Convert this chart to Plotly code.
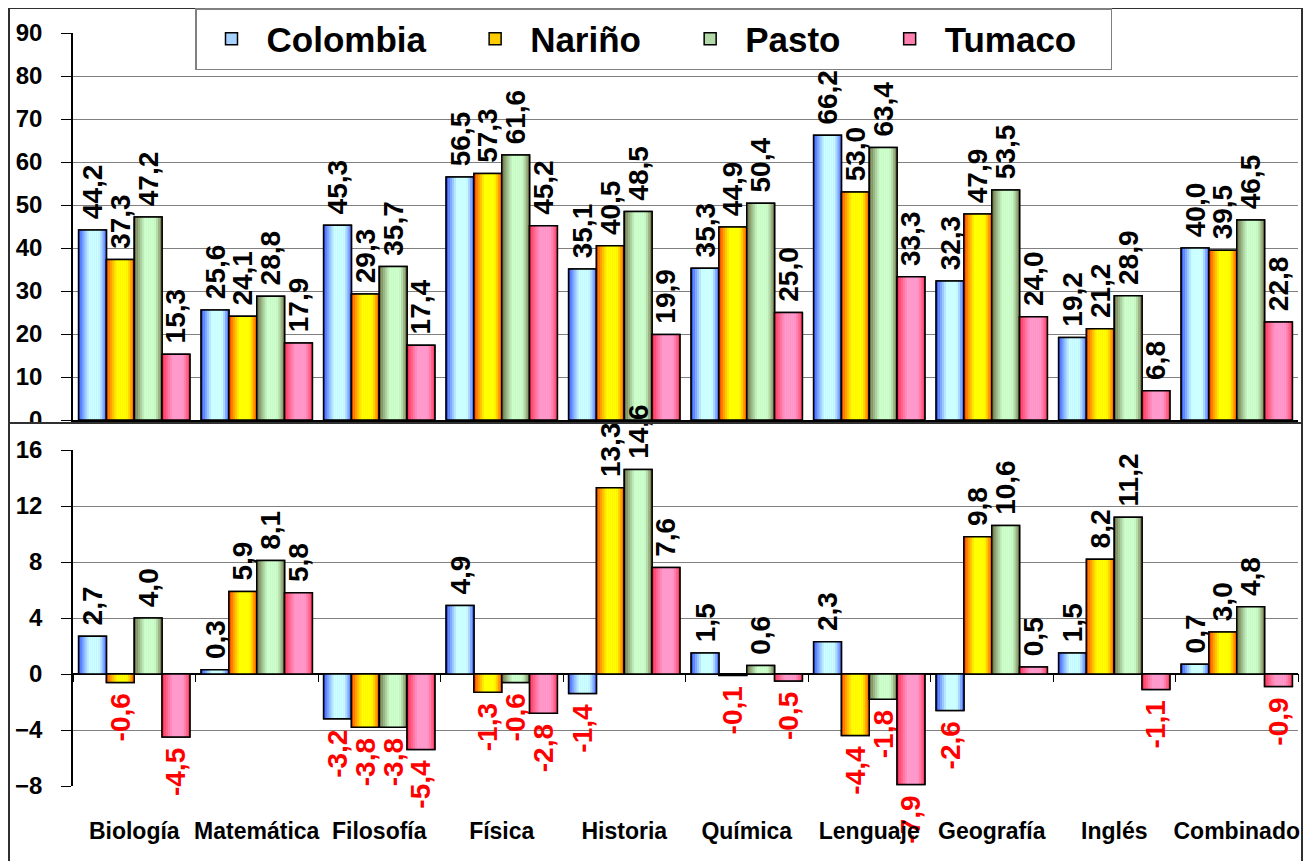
import plotly.graph_objects as go

subjects = ["Biología", "Matemática", "Filosofía", "Física", "Historia",
            "Química", "Lenguaje", "Geografía", "Inglés", "Combinado"]
series_names = ["Colombia", "Nariño", "Pasto", "Tumaco"]

# puntajes (panel superior)
score_colombia = [44.2, 25.6, 45.3, 56.5, 35.1, 35.3, 66.2, 32.3, 19.2, 40.0]
score_narino = [37.3, 24.1, 29.3, 57.3, 40.5, 44.9, 53.0, 47.9, 21.2, 39.5]
score_pasto = [47.2, 28.8, 35.7, 61.6, 48.5, 50.4, 63.4, 53.5, 28.9, 46.5]
score_tumaco = [15.3, 17.9, 17.4, 45.2, 19.9, 25.0, 33.3, 24.0, 6.8, 22.8]

# cambios (panel inferior)
change_colombia = [2.7, 0.3, -3.2, 4.9, -1.4, 1.5, 2.3, -2.6, 1.5, 0.7]
change_narino = [-0.6, 5.9, -3.8, -1.3, 13.3, -0.1, -4.4, 9.8, 8.2, 3.0]
change_pasto = [4.0, 8.1, -3.8, -0.6, 14.6, 0.6, -1.8, 10.6, 11.2, 4.8]
change_tumaco = [-4.5, 5.8, -5.4, -2.8, 7.6, -0.5, -7.9, 0.5, -1.1, -0.9]

top_values = [score_colombia, score_narino, score_pasto, score_tumaco]
bottom_values = [change_colombia, change_narino, change_pasto, change_tumaco]

# gradient stops: left edge, centre, right edge; plus flat legend colour
gradients = [
    ("#2040ff", "#ccffff", "#3a58ff", "#a6d2ff"),
    ("#ff3000", "#ffff00", "#ff4000", "#ffcc00"),
    ("#5c5c30", "#ccffcc", "#6a6a3c", "#b3d9a6"),
    ("#ff2040", "#ff99cc", "#ff3050", "#ff80b0"),
]

# the page body has an 8px margin, so size the figure to the visible area
W, H = 1305, 853
FONT = "Liberation Sans, Arial, sans-serif"
BAR_W = 0.227
N_STRIPS = 14
LEGEND_PAD = "\u00a0" * 3


def fx(px):
    return (px - 8) / W


def fy(py):
    return 1 - (py - 8) / H


def hex_to_rgb(h):
    h = h.lstrip("#")
    return tuple(int(h[i:i + 2], 16) for i in (0, 2, 4))


def mix(c1, c2, t):
    a, b = hex_to_rgb(c1), hex_to_rgb(c2)
    return "rgb({},{},{})".format(*[round(a[i] + (b[i] - a[i]) * t) for i in range(3)])


def strip_color(grad, t):
    left, mid, right = grad[0], grad[1], grad[2]
    if t < 0.38:
        return mix(left, mid, (t / 0.38) ** 0.8)
    if t < 0.72:
        return mix(mid, mid, 0)
    return mix(mid, right, ((t - 0.72) / 0.28) ** 1.4)


def fmt(v):
    # pad with a no-break space on the bar side so labels sit off the bar end
    s = f"{v:.1f}".replace(".", ",")
    return s + "\u00a0" if v < 0 else "\u00a0" + s


fig = go.Figure()

panels = [(top_values, "x", "y", True), (bottom_values, "x2", "y2", False)]
for values_set, xa, ya, legend in panels:
    for i, (name, vals) in enumerate(zip(series_names, values_set)):
        grad = gradients[i]
        base = -2 * BAR_W + i * BAR_W
        # flat base bar (also the legend entry)
        fig.add_trace(go.Bar(
            x=subjects, y=vals, name=name + LEGEND_PAD, xaxis=xa, yaxis=ya,
            width=BAR_W, offset=base,
            marker=dict(color=grad[3], line=dict(color="black", width=1.5)),
            showlegend=legend, legendgroup=name, hoverinfo="skip",
        ))
        # gradient strips
        sw = BAR_W / N_STRIPS
        for k in range(N_STRIPS):
            t = (k + 0.5) / N_STRIPS
            fig.add_trace(go.Bar(
                x=subjects, y=vals, xaxis=xa, yaxis=ya,
                width=sw * 1.08, offset=base + k * sw,
                marker=dict(color=strip_color(grad, t), line=dict(width=0)),
                showlegend=False, legendgroup=name, hoverinfo="skip",
            ))
        # outline + labels
        fig.add_trace(go.Bar(
            x=subjects, y=vals, name=name, xaxis=xa, yaxis=ya,
            width=BAR_W, offset=base,
            marker=dict(color="rgba(0,0,0,0)", line=dict(color="black", width=1.5)),
            text=[fmt(v) for v in vals],
            textposition="outside", textangle=-90,
            textfont=dict(family=FONT, size=28, weight="bold",
                          color=["red" if v < 0 else "black" for v in vals]),
            cliponaxis=False, constraintext="none",
            showlegend=False, legendgroup=name,
        ))

# empty trace so the zero-line category axis has its categories
fig.add_trace(go.Scatter(x=subjects, y=[None] * len(subjects), xaxis="x3", yaxis="y2",
                         mode="markers", showlegend=False, hoverinfo="skip"))

x_dom = [fx(73), fx(1298)]
tick_font = dict(family=FONT, size=24, color="black", weight="bold")

fig.update_layout(
    width=W, height=H,
    margin=dict(l=0, r=0, t=0, b=0),
    paper_bgcolor="white", plot_bgcolor="white",
    barmode="overlay",
    font=dict(family=FONT, color="black"),
    xaxis=dict(domain=x_dom, anchor="y", categoryorder="array", categoryarray=subjects,
               range=[-0.5, 9.5], showticklabels=False, ticks="",
               showline=True, linecolor="black", linewidth=1.5, showgrid=False),
    yaxis=dict(domain=[fy(420), fy(33)], anchor="x", range=[0, 90], dtick=10,
               showgrid=True, gridcolor="#808080", gridwidth=1.2,
               showline=True, linecolor="black", linewidth=1.5,
               ticks="outside", ticklen=10, tickcolor="black", tickwidth=1.2,
               tickfont=tick_font, ticklabelstandoff=14, zeroline=False, automargin=False),
    xaxis2=dict(domain=x_dom, anchor="y2", categoryorder="array", categoryarray=subjects,
                range=[-0.5, 9.5], ticks="", showline=False, showgrid=False, tickangle=0,
                tickfont=dict(family=FONT, size=23, color="black", weight="bold"),
                ticklabelstandoff=29, automargin=False),
    # category-boundary ticks on the zero line of the lower panel
    xaxis3=dict(type="category", overlaying="x2", anchor="free", position=fy(673),
                domain=x_dom, categoryorder="array", categoryarray=subjects,
                range=[-0.5, 9.5], ticks="outside", tickson="boundaries",
                ticklen=8, tickcolor="black", tickwidth=1.2,
                showticklabels=False, showline=False, showgrid=False),
    yaxis2=dict(domain=[fy(786), fy(450)], anchor="x2", range=[-8, 16], dtick=4,
                showgrid=True, gridcolor="#808080", gridwidth=1.2,
                showline=True, linecolor="black", linewidth=1.5,
                ticks="outside", ticklen=10, tickcolor="black", tickwidth=1.2,
                tickfont=tick_font, ticklabelstandoff=14,
                zeroline=True, zerolinecolor="black", zerolinewidth=1.5, automargin=False),
    legend=dict(orientation="h", x=fx(195), y=fy(8), xanchor="left", yanchor="top",
                bgcolor="white", bordercolor="#808080", borderwidth=1.5,
                font=dict(family=FONT, size=35, color="black", weight="bold"),
                itemwidth=60, traceorder="normal"),
    shapes=[
        dict(type="rect", xref="paper", yref="paper", layer="above",
             x0=fx(11), x1=fx(60), y0=fy(440), y1=fy(424),
             fillcolor="white", line=dict(width=0)),
        dict(type="rect", xref="paper", yref="paper",
             x0=fx(9), x1=fx(1302), y0=fy(423), y1=fy(8),
             line=dict(color="#303030", width=2)),
        dict(type="rect", xref="paper", yref="paper",
             x0=fx(9), x1=fx(1302), y0=-0.01, y1=fy(423),
             line=dict(color="#303030", width=2)),
    ],
)

fig.write_html("out.html")
